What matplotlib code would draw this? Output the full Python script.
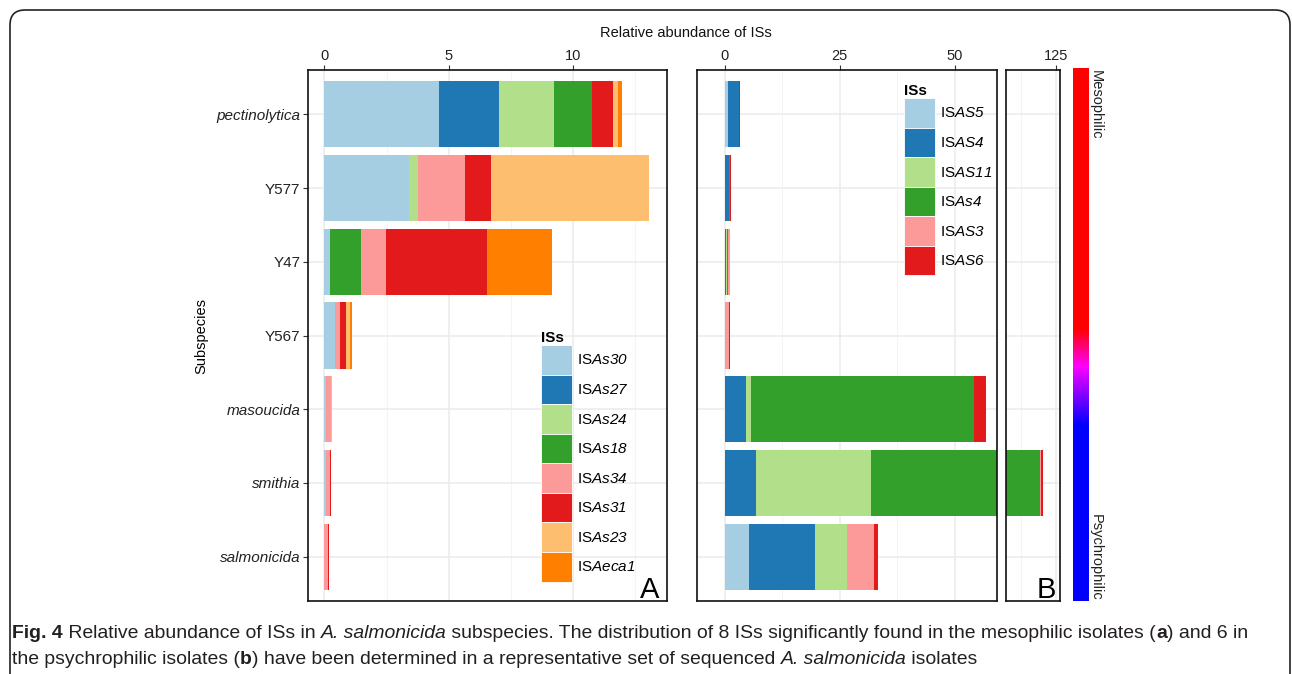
import matplotlib
matplotlib.use("Agg")
import matplotlib.pyplot as plt
import matplotlib.patches as mpatches
from matplotlib.colors import LinearSegmentedColormap
from matplotlib.transforms import IdentityTransform
import numpy as np

W, H = 1292, 674
FONT = "Liberation Sans"
CAP_FONT = ["Liberation Sans", "DejaVu Sans"]

plt.rcParams.update({
    "font.family": FONT,
    "font.size": 11,
    "mathtext.fontset": "custom",
    "mathtext.rm": "Liberation Sans",
    "mathtext.it": "Liberation Sans:italic",
    "mathtext.sf": "Liberation Sans:italic",
    "mathtext.bf": "Liberation Sans:bold",
})

# subspecies, top to bottom
subspecies = ["pectinolytica", "Y577", "Y47", "Y567", "masoucida", "smithia", "salmonicida"]
italic_names = {"pectinolytica", "masoucida", "smithia", "salmonicida"}

# panel A: mesophilic ISs
is_a = ["As30", "As27", "As24", "As18", "As34", "As31", "As23", "Aeca1"]
vals_a = {
    "As30":  [4.62, 3.39, 0.24, 0.41, 0.05, 0.06, 0.00],
    "As27":  [2.39, 0.00, 0.00, 0.00, 0.00, 0.00, 0.00],
    "As24":  [2.23, 0.36, 0.00, 0.00, 0.00, 0.00, 0.00],
    "As18":  [1.51, 0.00, 1.24, 0.00, 0.00, 0.00, 0.00],
    "As34":  [0.00, 1.91, 1.00, 0.24, 0.20, 0.18, 0.15],
    "As31":  [0.84, 1.04, 4.06, 0.24, 0.00, 0.03, 0.05],
    "As23":  [0.20, 6.33, 0.00, 0.16, 0.04, 0.00, 0.00],
    "Aeca1": [0.16, 0.00, 2.59, 0.08, 0.00, 0.00, 0.00],
}

# panel B: psychrophilic ISs
is_b = ["AS5", "AS4", "AS11", "As4", "AS3", "AS6"]
vals_b = {
    "AS5":  [0.65, 0.00, 0.10, 0.00, 0.00, 0.00, 5.3],
    "AS4":  [2.40, 0.90, 0.25, 0.00, 4.60, 6.90, 14.3],
    "AS11": [0.00, 0.00, 0.20, 0.00, 1.10, 24.9, 6.9],
    "As4":  [0.00, 0.20, 0.10, 0.00, 48.6, 87.5, 0.0],
    "AS3":  [0.00, 0.00, 0.60, 0.85, 0.00, 0.30, 5.9],
    "AS6":  [0.20, 0.25, 0.00, 0.20, 2.40, 0.90, 0.9],
}

paired = ["#A6CEE3", "#1F78B4", "#B2DF8A", "#33A02C", "#FB9A99", "#E31A1C", "#FDBF6F", "#FF7F00"]

fig = plt.figure(figsize=(W / 100, H / 100), dpi=100)


def px_axes(left, top, right, bottom):
    return fig.add_axes([left / W, 1 - bottom / H, (right - left) / W, (bottom - top) / H])


def stack(ax, names, vals, colors):
    ypos = np.arange(len(subspecies))
    left = np.zeros(len(subspecies))
    for name, col in zip(names, colors):
        v = np.array(vals[name])
        ax.barh(ypos, v, left=left, height=0.9, color=col, lw=0, zorder=2)
        left += v


def style_panel(ax, xlim, major, minor):
    # ticks first, limits last (set_xticks would widen the view otherwise)
    ax.xaxis.tick_top()
    ax.set_xticks(major)
    ax.set_xticks(minor, minor=True)
    ax.set_yticks(np.arange(len(subspecies)))
    ax.set_xlim(*xlim)
    ax.set_ylim(len(subspecies) - 0.4, -0.6)
    ax.grid(which="major", color="#ebebeb", lw=1.1, zorder=0)
    ax.grid(which="minor", axis="x", color="#f4f4f4", lw=0.8, zorder=0)
    ax.set_axisbelow(True)
    ax.tick_params(axis="x", which="major", length=3.5, width=0.8, color="#333333",
                   labelsize=10.5, labelcolor="#222222", pad=1.5)
    ax.tick_params(which="minor", length=0)
    for s in ax.spines.values():
        s.set_linewidth(1.2)
        s.set_color("#111111")


# ---- panel A ----
ax_a = px_axes(308, 70, 667, 601)
stack(ax_a, is_a, vals_a, paired)
style_panel(ax_a, (-0.655, 13.77), [0, 5, 10], [2.5, 7.5, 12.5])
ax_a.set_yticklabels(subspecies, fontsize=11, color="#222222")
for lbl in ax_a.get_yticklabels():
    if lbl.get_text() in italic_names:
        lbl.set_style("italic")
ax_a.tick_params(axis="y", length=3.5, width=0.8, color="#333333", pad=2)
ax_a.set_ylabel("Subspecies", fontsize=10.5, labelpad=6)

# ---- panel B ----
ax_b = px_axes(697, 70, 997, 601)
stack(ax_b, is_b, vals_b, paired[:6])
style_panel(ax_b, (-6.03, 59.2), [0, 25, 50], [12.5, 37.5])
ax_b.tick_params(axis="y", length=0, labelleft=False)

# ---- panel B, broken part ----
ax_c = px_axes(1006, 70, 1060, 601)
stack(ax_c, is_b, vals_b, paired[:6])
style_panel(ax_c, (106.9, 126.5), [125], [112.5])
ax_c.tick_params(axis="y", length=0, labelleft=False)

fig.text(686 / W, 1 - 33 / H, "Relative abundance of ISs", ha="center", va="center",
         fontsize=10.5, color="#111111")

fig.text(659 / W, 1 - 598 / H, "A", ha="right", va="baseline", fontsize=21)
fig.text(1056 / W, 1 - 598 / H, "B", ha="right", va="baseline", fontsize=21)


# ---- legends ----
def add_legend(ax, names, colors, x, y):
    handles = [mpatches.Patch(facecolor=c, edgecolor="white", lw=0.6) for c in colors]
    labels = [f"IS$\\mathsf{{{n}}}$" for n in names]
    return ax.legend(handles, labels, title="ISs", loc="upper left",
                     bbox_to_anchor=(x / W, 1 - y / H), bbox_transform=fig.transFigure,
                     frameon=False, borderpad=0, borderaxespad=0, labelspacing=0,
                     handlelength=2.05, handleheight=2.6, handletextpad=0.3,
                     fontsize=11, title_fontproperties={"weight": "bold", "size": 11},
                     alignment="left")


add_legend(ax_a, is_a, paired, 541, 331)
add_legend(ax_b, is_b, paired[:6], 904, 84)

# ---- temperature colour bar ----
cmap = LinearSegmentedColormap.from_list(
    "temp", [(0.0, "#0000FF"), (0.33, "#0000FF"), (0.44, "#FF00FF"),
             (0.51, "#FF0000"), (1.0, "#FF0000")])
cax = px_axes(1073, 68, 1089, 601)
cax.imshow(np.linspace(1, 0, 256)[:, None], aspect="auto", cmap=cmap, vmin=0, vmax=1)
cax.axis("off")
fig.text(1089 / W, 1 - 70 / H, "Mesophilic", rotation=-90, ha="left", va="top",
         fontsize=10.5, color="#222222")
fig.text(1089 / W, 1 - 601 / H, "Psychrophilic", rotation=-90, ha="left", va="bottom",
         fontsize=10.5, color="#222222")

# ---- outer frame ----
frame = mpatches.FancyBboxPatch((10, -40), 1280, 704,
                                boxstyle="round,pad=0,rounding_size=15",
                                transform=IdentityTransform(), fill=False,
                                ec="#222222", lw=1.2)
fig.patches.append(frame)

# ---- caption with mixed styles ----
renderer = fig.canvas.get_renderer()


def piece_width(s, size, weight, style):
    kw = dict(fontsize=size, family=CAP_FONT, weight=weight, style=style)
    a = fig.text(0, 0, "|" + s + "|", **kw)
    b = fig.text(0, 0, "||", **kw)
    w = a.get_window_extent(renderer).width - b.get_window_extent(renderer).width
    a.remove()
    b.remove()
    return w


line1 = [("Fig. 4", "bold", "normal"),
         (" Relative abundance of ISs in ", "normal", "normal"),
         ("A. salmonicida", "normal", "italic"),
         (" subspecies. The distribution of 8 ISs significantly found in the mesophilic isolates (",
          "normal", "normal"),
         ("a", "bold", "normal"),
         (") and 6 in", "normal", "normal")]
line2 = [("the psychrophilic isolates (", "normal", "normal"),
         ("b", "bold", "normal"),
         (") have been determined in a representative set of sequenced ", "normal", "normal"),
         ("A. salmonicida", "normal", "italic"),
         (" isolates", "normal", "normal")]

base = 12
total = sum(piece_width(s, base, w, st) for s, w, st in line1)
cap_size = base * 1238 / total


def rich_line(x, y, parts):
    for s, weight, style in parts:
        fig.text(x / W, 1 - y / H, s, ha="left", va="baseline", fontsize=cap_size,
                 family=CAP_FONT, weight=weight, style=style, color="#231f20")
        x += piece_width(s, cap_size, weight, style)


rich_line(12, 638, line1)
rich_line(12, 664, line2)

fig.savefig("out.png", dpi=100)
